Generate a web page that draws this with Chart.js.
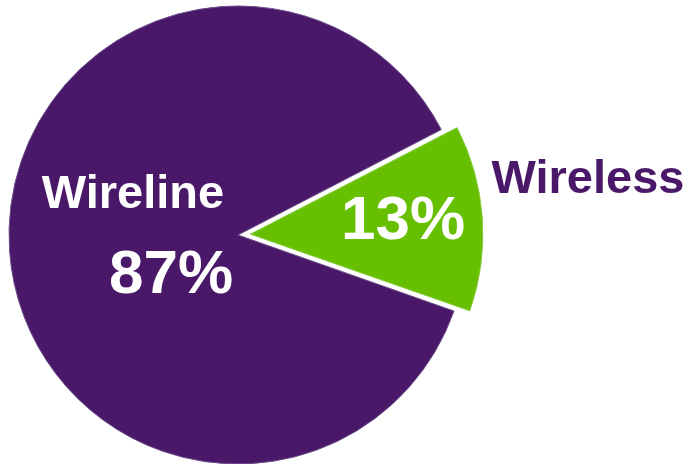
<!DOCTYPE html>
<html>
<head>
<meta charset="utf-8">
<script src="https://cdn.jsdelivr.net/npm/chart.js@4/dist/chart.umd.min.js"></script>
<style>
    html, body { margin: 0; padding: 0; background: #ffffff; }
    #wrap { width: 690px; height: 464px; position: relative; }
</style>
</head>
<body>
<div id="wrap"><canvas id="pie-chart"></canvas></div>
<script>
'use strict';

const categories = ['Wireline', 'Wireless'];
const shares = [87, 13];
const sliceColors = ['#4a1868', '#66bf00'];
const sliceBorders = ['#6d4f8b', '#86cc3a'];
const sliceOffsets = [0, 50];

const purple = sliceColors[0];
const fontFamily = '"Liberation Sans", Arial, Helvetica, sans-serif';

// draws the slice names and percentages on top of the pie
const sliceLabels = {
    id: 'sliceLabels',
    afterDatasetsDraw(chart) {
        const arc = chart.getDatasetMeta(0).data[0];
        const cx = arc.x;
        const cy = arc.y;
        const ctx = chart.ctx;
        ctx.save();
        ctx.textAlign = 'center';
        ctx.textBaseline = 'alphabetic';

        ctx.fillStyle = '#ffffff';
        ctx.font = 'bold 47px ' + fontFamily;
        ctx.fillText(categories[0], cx - 105, cy - 27);
        ctx.font = 'bold 62px ' + fontFamily;
        ctx.fillText(shares[0] + '%', cx - 67, cy + 58);
        ctx.font = 'bold 62px ' + fontFamily;
        ctx.fillText(shares[1] + '%', cx + 165, cy + 4);

        ctx.fillStyle = purple;
        ctx.font = 'bold 47px ' + fontFamily;
        ctx.fillText(categories[1], cx + 350, cy - 42);
        ctx.restore();
    }
};

new Chart(document.getElementById('pie-chart'), {
    type: 'pie',
    data: {
        labels: categories,
        datasets: [{
            data: shares,
            backgroundColor: sliceColors,
            borderColor: sliceBorders,
            borderWidth: 1,
            offset: sliceOffsets,
        }],
    },
    options: {
        responsive: true,
        maintainAspectRatio: false,
        animation: false,
        rotation: 109.4,
        radius: 229,
        layout: {
            padding: { left: 0, right: 214, top: 6, bottom: 0 },
        },
        plugins: {
            legend: { display: false },
            tooltip: { enabled: false },
        },
    },
    plugins: [sliceLabels],
});
</script>
</body>
</html>
